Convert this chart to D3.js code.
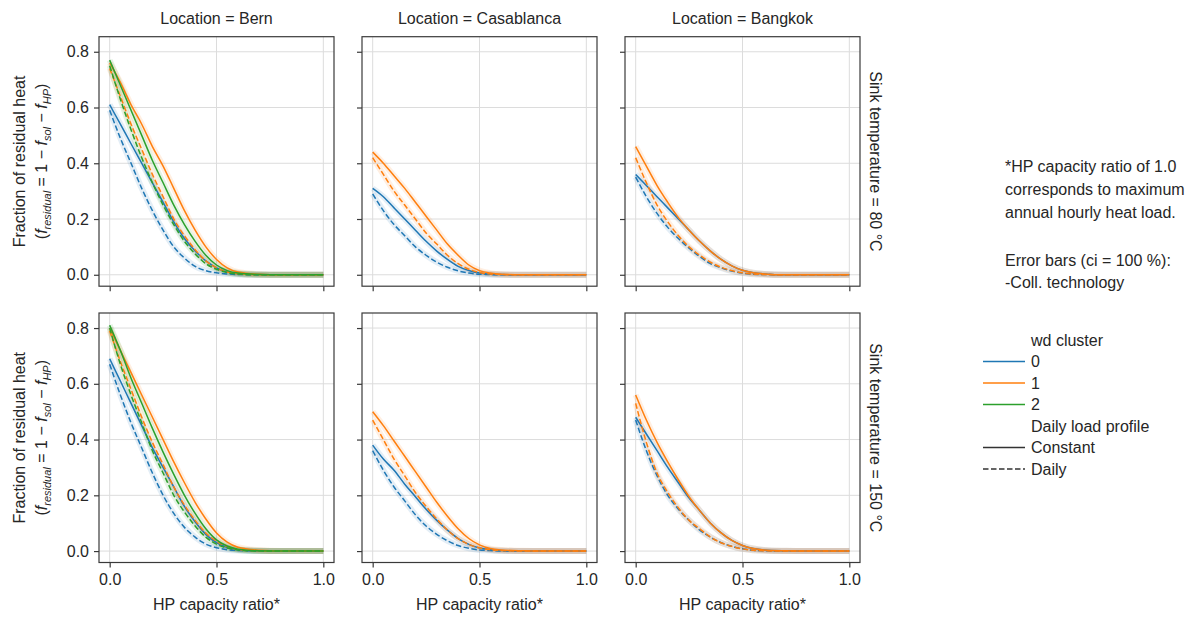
<!DOCTYPE html>
<html><head><meta charset="utf-8">
<script src="https://cdn.jsdelivr.net/npm/d3@7"></script>
<style>
body{margin:0;background:#fff;}
text{font-family:"Liberation Sans",Arial,sans-serif;fill:#262626;}
</style></head>
<body><svg id="c" width="1202" height="617"></svg>
<script>
// ---------------- data ----------------
const locations = ["Bern", "Casablanca", "Bangkok"];
const sinkTemps = ["80", "150"];
const clusters = ["0", "1", "2"];
const profiles = ["Constant", "Daily"];
const capacityRatio = [0, 0.05, 0.1, 0.15, 0.2, 0.25, 0.3, 0.35, 0.4, 0.45, 0.5, 0.55, 0.6, 0.7, 0.8, 0.9, 1.0];
const xTicks = [0, 0.5, 1.0];
const yTicks = [0, 0.2, 0.4, 0.6, 0.8];

// Bern, 80 °C
const bern80_c0_constant = [0.61,0.54,0.47,0.40,0.33,0.26,0.19,0.13,0.085,0.05,0.025,0.01,0.004,0.001,0,0,0];
const bern80_c0_daily    = [0.59,0.49,0.40,0.31,0.23,0.16,0.10,0.06,0.03,0.015,0.007,0.003,0.001,0,0,0,0];
const bern80_c1_constant = [0.76,0.69,0.61,0.54,0.46,0.39,0.31,0.23,0.16,0.10,0.055,0.025,0.01,0.002,0,0,0];
const bern80_c1_daily    = [0.74,0.64,0.54,0.45,0.36,0.28,0.20,0.14,0.09,0.05,0.025,0.01,0.004,0,0,0,0];
const bern80_c2_constant = [0.77,0.68,0.59,0.50,0.41,0.33,0.25,0.18,0.12,0.07,0.035,0.015,0.006,0.001,0,0,0];
const bern80_c2_daily    = [0.75,0.63,0.52,0.42,0.33,0.25,0.18,0.12,0.075,0.04,0.02,0.008,0.003,0,0,0,0];
// Casablanca, 80 °C
const casa80_c0_constant = [0.31,0.28,0.24,0.20,0.16,0.12,0.085,0.055,0.03,0.015,0.006,0.002,0.001,0,0,0,0];
const casa80_c0_daily    = [0.29,0.23,0.18,0.14,0.10,0.07,0.045,0.027,0.014,0.006,0.002,0.001,0,0,0,0,0];
const casa80_c1_constant = [0.44,0.40,0.355,0.31,0.26,0.21,0.16,0.11,0.07,0.035,0.015,0.006,0.002,0,0,0,0];
const casa80_c1_daily    = [0.42,0.36,0.30,0.25,0.20,0.15,0.11,0.07,0.04,0.02,0.008,0.003,0.001,0,0,0,0];
// Bangkok, 80 °C
const bkk80_c0_constant  = [0.36,0.32,0.28,0.24,0.20,0.16,0.12,0.085,0.055,0.032,0.016,0.007,0.003,0,0,0,0];
const bkk80_c0_daily     = [0.35,0.28,0.22,0.17,0.13,0.095,0.065,0.04,0.025,0.013,0.006,0.002,0.001,0,0,0,0];
const bkk80_c1_constant  = [0.46,0.39,0.32,0.26,0.205,0.16,0.12,0.085,0.055,0.032,0.016,0.007,0.003,0,0,0,0];
const bkk80_c1_daily     = [0.42,0.33,0.25,0.19,0.14,0.10,0.07,0.045,0.027,0.015,0.007,0.003,0.001,0,0,0,0];
// Bern, 150 °C
const bern150_c0_constant = [0.69,0.61,0.53,0.45,0.37,0.30,0.23,0.16,0.105,0.06,0.03,0.013,0.005,0.001,0,0,0];
const bern150_c0_daily    = [0.67,0.56,0.46,0.37,0.28,0.20,0.135,0.085,0.05,0.025,0.012,0.005,0.002,0,0,0,0];
const bern150_c1_constant = [0.80,0.72,0.64,0.56,0.48,0.40,0.32,0.245,0.175,0.115,0.065,0.032,0.014,0.003,0,0,0];
const bern150_c1_daily    = [0.79,0.68,0.58,0.48,0.39,0.31,0.23,0.165,0.11,0.065,0.035,0.016,0.006,0.001,0,0,0];
const bern150_c2_constant = [0.81,0.72,0.62,0.53,0.44,0.355,0.275,0.20,0.135,0.08,0.04,0.018,0.007,0.001,0,0,0];
const bern150_c2_daily    = [0.80,0.67,0.56,0.46,0.36,0.28,0.20,0.14,0.09,0.05,0.025,0.011,0.004,0,0,0,0];
// Casablanca, 150 °C
const casa150_c0_constant = [0.38,0.33,0.29,0.24,0.195,0.15,0.11,0.075,0.045,0.024,0.011,0.005,0.002,0,0,0,0];
const casa150_c0_daily    = [0.36,0.29,0.23,0.18,0.13,0.09,0.06,0.037,0.02,0.01,0.004,0.002,0,0,0,0,0];
const casa150_c1_constant = [0.50,0.45,0.395,0.34,0.285,0.23,0.175,0.125,0.08,0.045,0.022,0.009,0.004,0.001,0,0,0];
const casa150_c1_daily    = [0.47,0.40,0.33,0.27,0.21,0.16,0.115,0.075,0.045,0.024,0.011,0.005,0.002,0,0,0,0];
// Bangkok, 150 °C
const bkk150_c0_constant  = [0.48,0.42,0.36,0.30,0.245,0.19,0.145,0.10,0.065,0.038,0.02,0.009,0.004,0.001,0,0,0];
const bkk150_c0_daily     = [0.47,0.36,0.27,0.20,0.15,0.11,0.075,0.05,0.03,0.017,0.008,0.003,0.001,0,0,0,0];
const bkk150_c1_constant  = [0.56,0.47,0.39,0.32,0.255,0.195,0.145,0.10,0.065,0.038,0.02,0.009,0.004,0.001,0,0,0];
const bkk150_c1_daily     = [0.53,0.39,0.28,0.21,0.155,0.11,0.08,0.05,0.03,0.017,0.008,0.003,0.001,0,0,0,0];

const clusterColors = ["#1f77b4", "#ff7f0e", "#2ca02c"];

// panels: [row][col] -> list of series
const panelSeries = [
  [
    [[0,"Constant",bern80_c0_constant],[0,"Daily",bern80_c0_daily],[1,"Constant",bern80_c1_constant],[1,"Daily",bern80_c1_daily],[2,"Constant",bern80_c2_constant],[2,"Daily",bern80_c2_daily]],
    [[0,"Constant",casa80_c0_constant],[0,"Daily",casa80_c0_daily],[1,"Constant",casa80_c1_constant],[1,"Daily",casa80_c1_daily]],
    [[0,"Constant",bkk80_c0_constant],[0,"Daily",bkk80_c0_daily],[1,"Constant",bkk80_c1_constant],[1,"Daily",bkk80_c1_daily]]
  ],
  [
    [[0,"Constant",bern150_c0_constant],[0,"Daily",bern150_c0_daily],[1,"Constant",bern150_c1_constant],[1,"Daily",bern150_c1_daily],[2,"Constant",bern150_c2_constant],[2,"Daily",bern150_c2_daily]],
    [[0,"Constant",casa150_c0_constant],[0,"Daily",casa150_c0_daily],[1,"Constant",casa150_c1_constant],[1,"Daily",casa150_c1_daily]],
    [[0,"Constant",bkk150_c0_constant],[0,"Daily",bkk150_c0_daily],[1,"Constant",bkk150_c1_constant],[1,"Daily",bkk150_c1_daily]]
  ]
];

// ---------------- layout ----------------
const svg = d3.select("#c");
const panelW = 235, panelH = 249.5;
const lefts = [99, 362, 625];
const tops = [36.7, 313];
const FS = 16;

const line = d3.line().curve(d3.curveMonotoneX);

sinkTemps.forEach((temp, r) => {
  locations.forEach((loc, c) => {
    const x0 = lefts[c], y0 = tops[r];
    const x = d3.scaleLinear().domain([-0.05, 1.05]).range([x0, x0 + panelW]);
    const y = d3.scaleLinear().domain([-0.041, 0.854]).range([y0 + panelH, y0]);
    const g = svg.append("g");
    // grid
    g.selectAll(".gx").data(xTicks).join("line")
      .attr("x1", d => x(d)).attr("x2", d => x(d)).attr("y1", y0).attr("y2", y0 + panelH)
      .attr("stroke", "#dcdcdc").attr("stroke-width", 1);
    g.selectAll(".gy").data(yTicks).join("line")
      .attr("y1", d => y(d)).attr("y2", d => y(d)).attr("x1", x0).attr("x2", x0 + panelW)
      .attr("stroke", "#dcdcdc").attr("stroke-width", 1);

    // series
    const series = panelSeries[r][c];
    line.x((d, i) => x(capacityRatio[i])).y(d => y(d));
    // faint CI bands (halo)
    series.forEach(([cl, prof, vals]) => {
      g.append("path").attr("d", line(vals)).attr("fill", "none")
        .attr("stroke", clusterColors[cl]).attr("stroke-opacity", 0.12)
        .attr("stroke-width", 6).attr("stroke-linejoin", "round");
    });
    series.forEach(([cl, prof, vals]) => {
      g.append("path").attr("d", line(vals)).attr("fill", "none")
        .attr("stroke", clusterColors[cl]).attr("stroke-width", 1.5)
        .attr("stroke-dasharray", prof === "Daily" ? "5.5,2.5" : null);
    });

    // frame
    g.append("rect").attr("x", x0).attr("y", y0).attr("width", panelW).attr("height", panelH)
      .attr("fill", "none").attr("stroke", "#3a3a3a").attr("stroke-width", 1.2);

    // x axis
    const xa = g.append("g").attr("transform", `translate(0,${y0 + panelH})`)
      .call(d3.axisBottom(x).tickValues(xTicks).tickSize(5).tickPadding(6).tickFormat(d3.format(".1f")));
    xa.select(".domain").remove();
    xa.selectAll("line").attr("stroke", "#3a3a3a").attr("stroke-width", 1.2);
    xa.selectAll("text").style("font-size", FS + "px").attr("fill", "#262626");
    if (r === 0) xa.selectAll("text").remove();
    // y axis
    const ya = g.append("g").attr("transform", `translate(${x0},0)`)
      .call(d3.axisLeft(y).tickValues(yTicks).tickSize(5).tickPadding(5).tickFormat(d3.format(".1f")));
    ya.select(".domain").remove();
    ya.selectAll("line").attr("stroke", "#3a3a3a").attr("stroke-width", 1.2);
    ya.selectAll("text").style("font-size", FS + "px").attr("fill", "#262626");
    if (c > 0) ya.selectAll("text").remove();

    if (r === 0) {
      svg.append("text").attr("x", x0 + panelW / 2).attr("y", 24).attr("text-anchor", "middle")
        .style("font-size", FS + "px").text("Location = " + loc);
    }
    if (r === 1) {
      svg.append("text").attr("x", x0 + panelW / 2).attr("y", 610).attr("text-anchor", "middle")
        .style("font-size", FS + "px").text("HP capacity ratio*");
    }
    if (c === 2) {
      const cy = y0 + panelH / 2;
      svg.append("text").attr("transform", `translate(876,${cy}) rotate(90)`)
        .attr("text-anchor", "middle").attr("dy", "0.35em")
        .style("font-size", FS + "px").text("Sink temperature = " + temp + " °C");
    }
    if (c === 0) {
      const cy = y0 + panelH / 2;
      svg.append("text").attr("transform", `translate(25,${cy}) rotate(-90)`)
        .attr("text-anchor", "middle").style("font-size", FS + "px").text("Fraction of residual heat");
      const t = svg.append("text").attr("transform", `translate(47,${cy}) rotate(-90)`)
        .attr("text-anchor", "middle").style("font-size", FS + "px");
      t.append("tspan").text("(");
      t.append("tspan").style("font-style", "italic").text("f");
      t.append("tspan").attr("dy", 4).style("font-size", "11px").style("font-style", "italic").text("residual");
      t.append("tspan").attr("dy", -4).text(" = 1 − ");
      t.append("tspan").style("font-style", "italic").text("f");
      t.append("tspan").attr("dy", 4).style("font-size", "11px").style("font-style", "italic").text("sol");
      t.append("tspan").attr("dy", -4).text(" − ");
      t.append("tspan").style("font-style", "italic").text("f");
      t.append("tspan").attr("dy", 4).style("font-size", "11px").style("font-style", "italic").text("HP");
      t.append("tspan").attr("dy", -4).text(")");
    }
  });
});

// ---------------- annotation + legend ----------------
const noteLines = ["*HP capacity ratio of 1.0", "corresponds to maximum", "annual hourly heat load.", "", "Error bars (ci = 100 %):", "-Coll. technology"];
const noteY = [172, 195, 218, null, 266, 288];
noteLines.forEach((s, i) => {
  if (s) svg.append("text").attr("x", 1005).attr("y", noteY[i]).style("font-size", FS + "px").text(s);
});

const legendItems = [
  {label: "wd cluster", title: true},
  {label: "0", color: clusterColors[0]},
  {label: "1", color: clusterColors[1]},
  {label: "2", color: clusterColors[2]},
  {label: "Daily load profile", title: true},
  {label: "Constant", color: "#333", dash: null},
  {label: "Daily", color: "#333", dash: "5.5,2.5"}
];
const lgY0 = 340, lgStep = 21.5;
legendItems.forEach((it, i) => {
  const yy = lgY0 + i * lgStep;
  if (!it.title) {
    svg.append("line").attr("x1", 983).attr("x2", 1025).attr("y1", yy).attr("y2", yy)
      .attr("stroke", it.color).attr("stroke-width", 1.6).attr("stroke-dasharray", it.dash || null);
  }
  svg.append("text").attr("x", 1031).attr("y", yy).attr("dy", "0.35em").style("font-size", FS + "px").text(it.label);
});
</script></body></html>
